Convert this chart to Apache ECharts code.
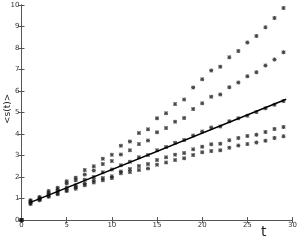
<!DOCTYPE html>
<html><head><meta charset="utf-8">
<script src="https://cdn.jsdelivr.net/npm/echarts@6/dist/echarts.min.js"></script>
<style>html,body{margin:0;padding:0;background:#fff}#c{width:300px;height:240px}</style>
</head><body><div id="c"></div>
<script>
var tValues = [0,1,2,3,4,5,6,7,8,9,10,11,12,13,14,15,16,17,18,19,20,21,22,23,24,25,26,27,28,29];
var seriesA = [0,0.92,1.07,1.35,1.5,1.8,1.97,2.32,2.5,2.85,3.03,3.45,3.65,4.05,4.22,4.73,4.97,5.39,5.61,6.16,6.55,6.95,7.13,7.57,7.86,8.26,8.56,8.96,9.4,9.86];
var seriesB = [0,0.88,1.02,1.27,1.42,1.7,1.85,2.12,2.3,2.6,2.75,3.05,3.25,3.53,3.7,4.08,4.28,4.57,4.74,5.16,5.43,5.73,5.84,6.17,6.4,6.69,6.87,7.19,7.47,7.8];
var seriesC = [0,0.82,0.98,1.17,1.32,1.5,1.62,1.87,2.0,2.22,2.35,2.55,2.71,2.92,3.02,3.25,3.4,3.59,3.72,3.93,4.12,4.3,4.35,4.59,4.73,4.85,5.02,5.2,5.36,5.53];
var seriesD = [0,0.78,0.95,1.12,1.25,1.4,1.52,1.7,1.85,1.95,2.03,2.26,2.37,2.51,2.6,2.79,2.92,3.04,3.12,3.29,3.41,3.52,3.55,3.71,3.81,3.91,3.97,4.09,4.23,4.33];
var seriesE = [0,0.75,0.92,1.08,1.2,1.35,1.45,1.62,1.75,1.85,1.95,2.18,2.23,2.33,2.4,2.57,2.68,2.79,2.87,3.02,3.15,3.21,3.24,3.36,3.47,3.53,3.6,3.69,3.81,3.89];
var fitT = [1, 29.3];
var fitV = [0.82, 5.62];
var xTicks = [0,5,10,15,20,25,30];
var yTicks = [0,1,2,3,4,5,6,7,8,9,10];

function pairs(xs, ys){ return xs.map(function(x,i){ return [x, ys[i]]; }); }
var star = 'path://M3.8,0h2.4v10h-2.4z M0,3.8h10v2.4h-10z M1.5,0L10,8.5L8.5,10L0,1.5z M8.5,0L10,1.5L1.5,10L0,8.5z';
function scat(d){
  return {type:'scatter', data:d, symbol:star, symbolSize:4, itemStyle:{color:'#1a1a1a'}, silent:true, z:2};
}
var axLine = {show:true, lineStyle:{color:'#555', width:1}};
var lbl = {fontSize:7, color:'#333', fontFamily:'DejaVu Sans'};
var chart = echarts.init(document.getElementById('c'), null, {renderer:'canvas'});
chart.setOption({
  animation:false,
  grid:{left:21.5, right:6, top:5, bottom:20},
  xAxis:[
    {type:'value', min:xTicks[0], max:xTicks[xTicks.length-1], interval:5, axisLine:axLine,
     axisTick:{inside:true, length:3, lineStyle:{color:'#555'}}, axisLabel:Object.assign({margin:2}, lbl), splitLine:{show:false}},
    {type:'value', position:'top', min:0, max:30, interval:5, axisLine:axLine,
     axisTick:{inside:true, length:3, lineStyle:{color:'#555'}}, axisLabel:{show:false}, splitLine:{show:false}}
  ],
  yAxis:[
    {type:'value', min:yTicks[0], max:yTicks[yTicks.length-1], interval:1, axisLine:axLine,
     axisTick:{inside:true, length:3, lineStyle:{color:'#555'}}, axisLabel:Object.assign({margin:2}, lbl), splitLine:{show:false}},
    {type:'value', position:'right', min:0, max:10, interval:1, axisLine:axLine,
     axisTick:{inside:true, length:3, lineStyle:{color:'#555'}}, axisLabel:{show:false}, splitLine:{show:false}}
  ],
  series:[
    scat(pairs(tValues, seriesA)),
    scat(pairs(tValues, seriesB)),
    scat(pairs(tValues, seriesC)),
    scat(pairs(tValues, seriesD)),
    scat(pairs(tValues, seriesE)),
    {type:'line', data:pairs(fitT, fitV), symbol:'none', lineStyle:{color:'#000', width:1.6}, z:3, silent:true}
  ],
  graphic:[
    {type:'text', left:261, top:225, style:{text:'t', fontSize:14, fill:'#222', fontFamily:'DejaVu Sans'}},
    {type:'text', x:3, y:124, rotation:Math.PI/2, style:{text:'<s(t)>', fontSize:9, fill:'#222', fontFamily:'DejaVu Sans'}}
  ]
});
</script></body></html>
